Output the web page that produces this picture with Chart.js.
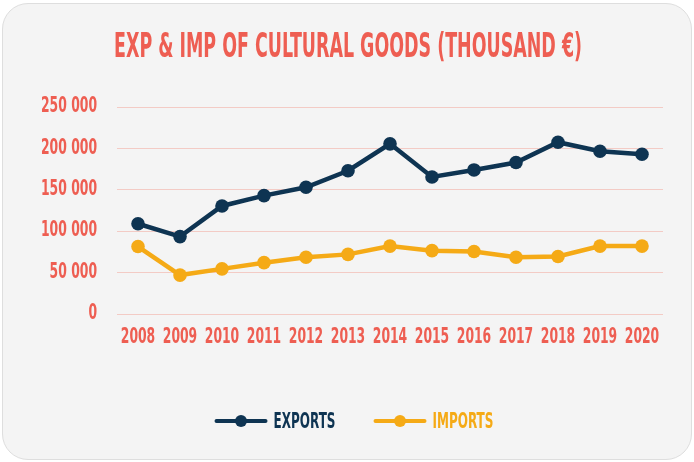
<!DOCTYPE html>
<html>
<head>
<meta charset="utf-8">
<script src="https://cdn.jsdelivr.net/npm/chart.js@4/dist/chart.umd.min.js"></script>
<style>
html,body{margin:0;padding:0;background:#ffffff;width:694px;height:462px;overflow:hidden;}
#card{position:absolute;left:2px;top:3px;width:688px;height:455px;background:#f4f4f4;border:1px solid #dedede;border-radius:26px;}
#wrap{position:absolute;left:0;top:0;width:694px;height:462px;}
</style>
</head>
<body>
<div id="card"></div>
<div id="wrap"><canvas id="c" width="694" height="462"></canvas></div>
<script>
const years = ['2008','2009','2010','2011','2012','2013','2014','2015','2016','2017','2018','2019','2020'];
const exportsData = [109000, 93500, 130500, 143000, 153000, 173000, 205500, 165500, 174000, 183000, 207500, 196500, 193000];
const importsData = [81500, 47000, 54500, 62000, 68500, 72000, 82000, 76500, 75500, 68500, 69500, 82000, 82000];
const yTicks = [0, 50000, 100000, 150000, 200000, 250000];
const titleText = 'EXP & IMP OF CULTURAL GOODS (THOUSAND €)';
const seriesNames = ['EXPORTS', 'IMPORTS'];

const NAVY = '#0e3452';
const GOLD = '#f5aa16';
const CORAL = '#ee5e52';
const GRID = '#f3cbc5';
const FONT = "'DejaVu Sans Condensed', 'DejaVu Sans', sans-serif";

function fmt(v){ return String(v).replace(/\B(?=(\d{3})+(?!\d))/g, ' '); }

// condensed text helpers (the reference uses a tall, narrow display face)
function fitScale(ctx, text, size, target){
  ctx.save();
  ctx.font = 'bold ' + size + 'px ' + FONT;
  const s = target / ctx.measureText(text).width;
  ctx.restore();
  return s;
}
function measure(ctx, text, size, sx){
  ctx.save();
  ctx.font = 'bold ' + size + 'px ' + FONT;
  const w = ctx.measureText(text).width * sx;
  ctx.restore();
  return w;
}
function drawText(ctx, text, x, y, size, color, align, sx){
  ctx.save();
  ctx.font = 'bold ' + size + 'px ' + FONT;
  const w = ctx.measureText(text).width * sx;
  let left = x;
  if (align === 'center') left = x - w / 2;
  else if (align === 'right') left = x - w;
  ctx.translate(left, y);
  ctx.scale(sx, 1);
  ctx.fillStyle = color;
  ctx.textAlign = 'left';
  ctx.textBaseline = 'alphabetic';
  ctx.fillText(text, 0, 0);
  ctx.restore();
}

const textPlugin = {
  id: 'condensedText',
  afterDraw(chart) {
    const ctx = chart.ctx;
    const tSize = 33, lSize = 21.4;
    const sxTitle = fitScale(ctx, titleText, tSize, 468);
    const sxTick = fitScale(ctx, fmt(250000), lSize, 56);
    const sxLeg = fitScale(ctx, seriesNames[0], lSize, 62);

    // title
    drawText(ctx, titleText, 348, 57.3, tSize, CORAL, 'center', sxTitle);

    // y tick labels
    const ys = chart.scales.y;
    yTicks.forEach(v => {
      drawText(ctx, fmt(v), ys.right - 20, ys.getPixelForValue(v) + 5.2, lSize, CORAL, 'right', sxTick);
    });

    // x tick labels
    const xs = chart.scales.x;
    years.forEach((lab, i) => {
      drawText(ctx, lab, xs.getPixelForTick(i), 343.3, lSize, CORAL, 'center', sxTick);
    });

    // legend
    const items = chart.data.datasets.map(ds => ({text: ds.label, color: ds.borderColor}));
    const iconW = 53, gap = 6, itemGap = 38;
    const widths = items.map(it => iconW + gap + measure(ctx, it.text, lSize, sxLeg));
    const total = widths.reduce((a, b) => a + b, 0) + itemGap * (items.length - 1);
    let x = chart.width / 2 + 7 - total / 2;
    const lineY = 421, baseY = 428.3;
    items.forEach((it, i) => {
      ctx.save();
      ctx.strokeStyle = it.color; ctx.fillStyle = it.color;
      ctx.lineWidth = 4; ctx.lineCap = 'round';
      ctx.beginPath(); ctx.moveTo(x + 2, lineY); ctx.lineTo(x + iconW - 2, lineY); ctx.stroke();
      ctx.beginPath(); ctx.arc(x + iconW / 2, lineY, 6, 0, Math.PI * 2); ctx.fill();
      ctx.restore();
      drawText(ctx, it.text, x + iconW + gap, baseY, lSize, it.color, 'left', sxLeg);
      x += widths[i] + itemGap;
    });
  }
};

new Chart(document.getElementById('c'), {
  type: 'line',
  data: {
    labels: years,
    datasets: [
      {label: seriesNames[0], data: exportsData, borderColor: NAVY, backgroundColor: NAVY,
       borderWidth: 4.5, pointRadius: 6.8, pointBorderWidth: 0, pointBackgroundColor: NAVY, tension: 0},
      {label: seriesNames[1], data: importsData, borderColor: GOLD, backgroundColor: GOLD,
       borderWidth: 4.5, pointRadius: 6.8, pointBorderWidth: 0, pointBackgroundColor: GOLD, tension: 0}
    ]
  },
  options: {
    responsive: false,
    animation: false,
    layout: {padding: {left: 0, right: 31, top: 107, bottom: 0}},
    plugins: {
      tooltip: {enabled: false},
      title: {display: false},
      legend: {display: false}
    },
    scales: {
      x: {
        offset: true,
        grid: {display: false, drawTicks: false},
        border: {display: false},
        ticks: {display: false, autoSkip: false},
        afterFit: (s) => { s.height = 148; }
      },
      y: {
        min: 0, max: 250000,
        afterBuildTicks: (s) => { s.ticks = yTicks.map(v => ({value: v})); },
        grid: {color: GRID, lineWidth: 1, drawTicks: false},
        border: {display: false},
        ticks: {display: false},
        afterFit: (s) => { s.width = 117; }
      }
    }
  },
  plugins: [textPlugin]
});
</script>
</body>
</html>
